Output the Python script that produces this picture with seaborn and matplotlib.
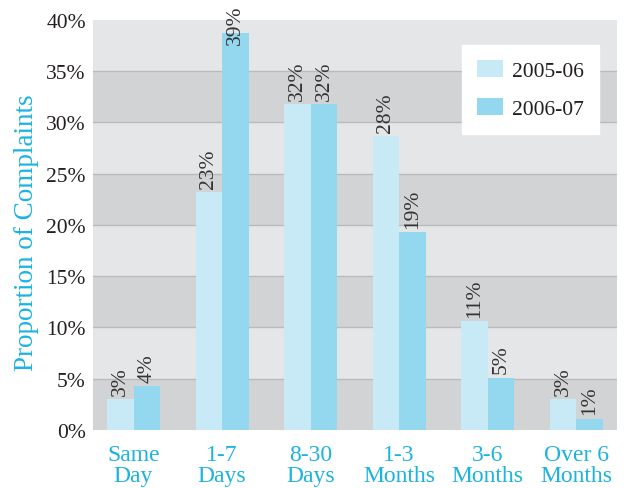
import pandas as pd
import matplotlib.pyplot as plt
import seaborn as sns

categories = ["Same\nDay", "1-7\nDays", "8-30\nDays", "1-3\nMonths", "3-6\nMonths", "Over 6\nMonths"]
years = ["2005-06", "2006-07"]
vals_2005 = [3.0, 23.2, 31.8, 28.7, 10.6, 3.0]
vals_2006 = [4.3, 38.7, 31.8, 19.3, 5.1, 1.1]
labels_2005 = ["3%", "23%", "32%", "28%", "11%", "3%"]
labels_2006 = ["4%", "39%", "32%", "19%", "5%", "1%"]

df = pd.DataFrame({
    "period": categories * 2,
    "year": [years[0]] * 6 + [years[1]] * 6,
    "value": vals_2005 + vals_2006,
})

cyan = "#1bb3e0"
band_light = "#e5e6e8"
band_dark = "#d2d3d5"

plt.rcParams["font.family"] = ["Liberation Serif", "DejaVu Serif"]

fig = plt.figure(figsize=(6.27, 4.89), dpi=100)
ax = fig.add_axes([0.148, 0.119, 0.836, 0.838])

# background bands
for i in range(8):
    ax.axhspan(i * 5, (i + 1) * 5, color=band_dark if i % 2 == 0 else band_light, zorder=0, lw=0)
for y in range(5, 40, 5):
    ax.axhline(y, color="#b9babc", lw=1, zorder=0.5)

sns.barplot(data=df, x="period", y="value", hue="year", palette=["#c8eaf6", "#93d8ee"],
            width=0.6, saturation=1, ax=ax, zorder=2, gap=0)

for cont, labs in zip(ax.containers, [labels_2005, labels_2006]):
    anns = ax.bar_label(cont, labels=labs, rotation=90, padding=3, fontsize=15.5, color="#333333")
    for a, l in zip(anns, labs):
        if l == "39%":
            # pushed down so it stays inside the figure
            a.xyann = (0, -8)

ax.set_ylim(0, 40)
ax.set_xlim(-0.46, 5.46)
ax.set_yticks(range(0, 41, 5))
ax.set_yticklabels([f"{v}%" for v in range(0, 41, 5)], fontsize=15.5, color="#231f20")
ax.tick_params(axis="x", labelsize=17, labelcolor=cyan, length=0, pad=10)
ax.tick_params(axis="y", length=0, pad=5)
for lab in ax.get_xticklabels():
    lab.set_linespacing(1.05)
ax.set_xlabel("")
ax.set_ylabel("Proportion of Complaints", fontsize=19.5, color=cyan)
ax.yaxis.set_label_coords(-0.103, 0.483)
for s in ax.spines.values():
    s.set_visible(False)

leg = ax.legend(loc="upper right", bbox_to_anchor=(0.966, 0.939), fontsize=15.5, frameon=True,
                fancybox=False, framealpha=1, facecolor="white", edgecolor="white",
                handlelength=1.2, handleheight=0.84, labelspacing=0.8, borderpad=0.7,
                handletextpad=0.45, borderaxespad=0)
for t in leg.get_texts():
    t.set_color("#231f20")

plt.savefig("out.png", dpi=100)
